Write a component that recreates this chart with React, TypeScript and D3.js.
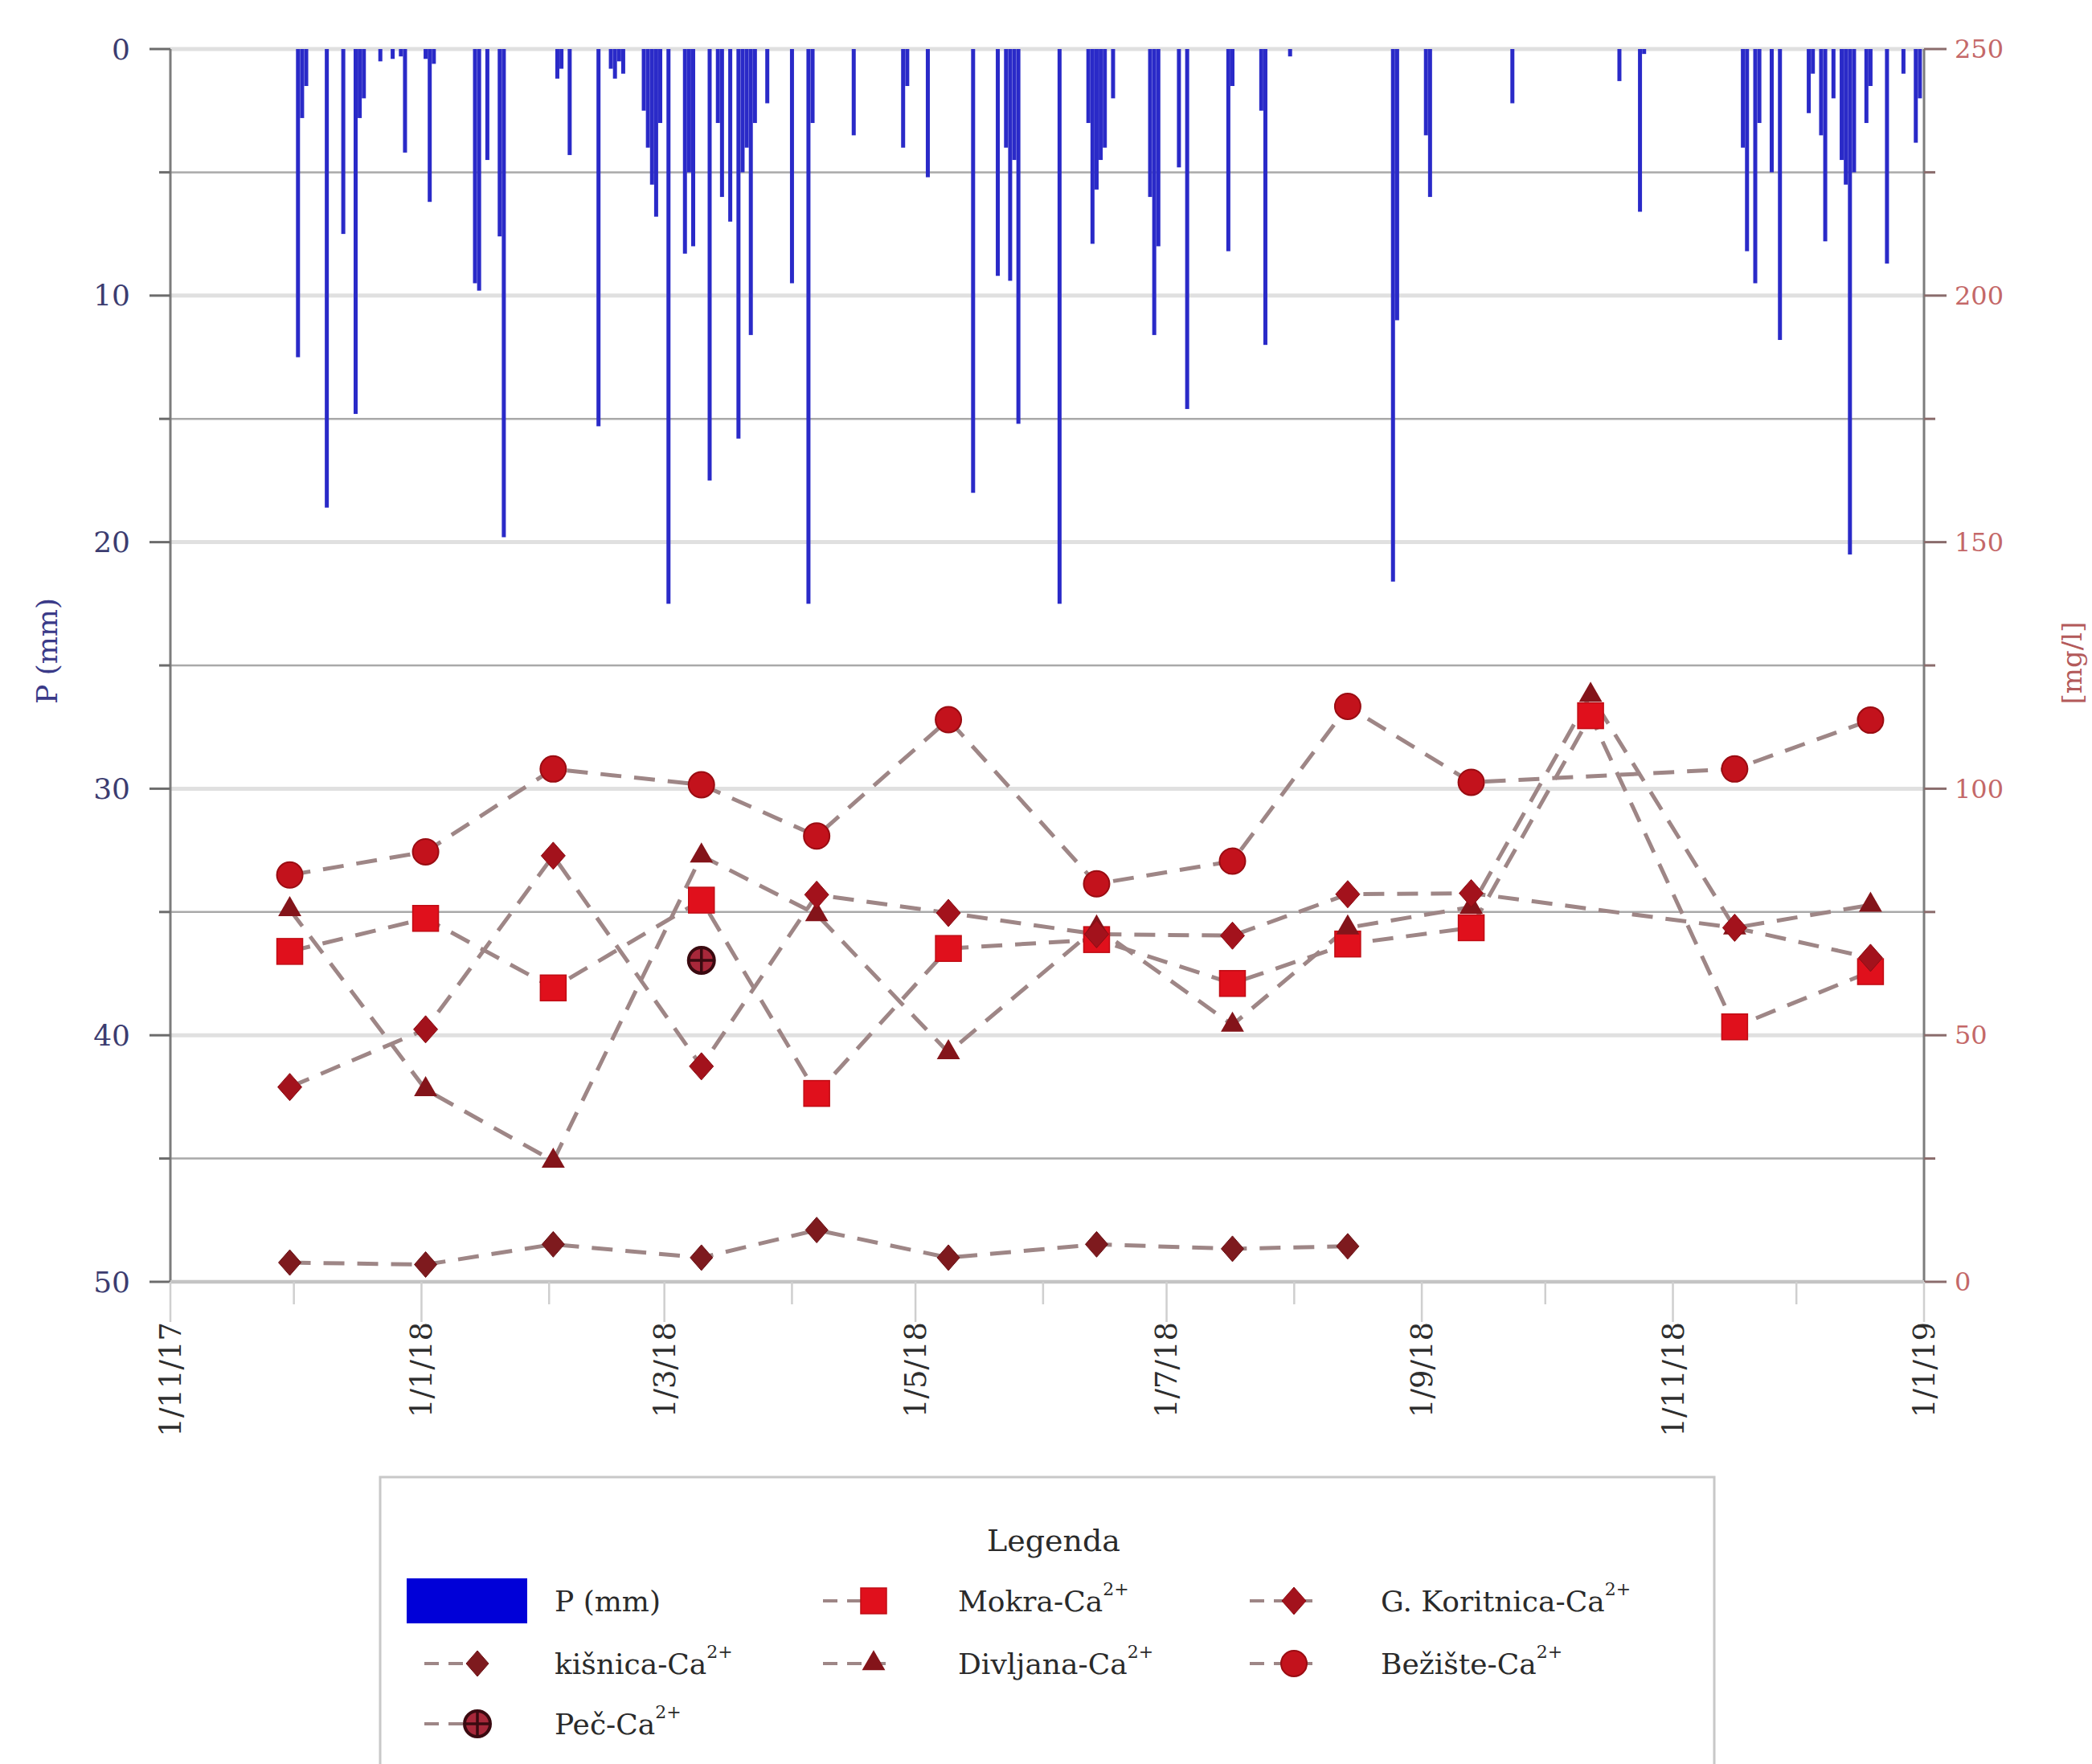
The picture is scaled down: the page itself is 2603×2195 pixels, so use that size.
import React from 'react';
import * as d3 from 'd3';

// ---------- DATA ----------
const precipDates = [
  '2017-12-02','2017-12-03','2017-12-04','2017-12-09','2017-12-13','2017-12-16','2017-12-17','2017-12-18','2017-12-22','2017-12-25','2017-12-27','2017-12-28',
  '2018-01-02','2018-01-03','2018-01-04','2018-01-14','2018-01-15','2018-01-17','2018-01-20','2018-01-21',
  '2018-02-03','2018-02-04','2018-02-06','2018-02-13','2018-02-16','2018-02-17','2018-02-18','2018-02-19','2018-02-24','2018-02-25','2018-02-26','2018-02-27','2018-02-28',
  '2018-03-02','2018-03-06','2018-03-07','2018-03-08','2018-03-12','2018-03-14','2018-03-15','2018-03-17','2018-03-19','2018-03-20','2018-03-21','2018-03-22','2018-03-23','2018-03-26',
  '2018-04-01','2018-04-05','2018-04-06','2018-04-16','2018-04-28','2018-04-29',
  '2018-05-04','2018-05-15','2018-05-21','2018-05-23','2018-05-24','2018-05-25','2018-05-26',
  '2018-06-05','2018-06-12','2018-06-13','2018-06-14','2018-06-15','2018-06-16','2018-06-18','2018-06-27','2018-06-28','2018-06-29',
  '2018-07-04','2018-07-06','2018-07-16','2018-07-17','2018-07-24','2018-07-25','2018-07-31',
  '2018-08-25','2018-08-26','2018-09-02','2018-09-03','2018-09-23',
  '2018-10-19','2018-10-24','2018-10-25',
  '2018-11-18','2018-11-19','2018-11-21','2018-11-22','2018-11-25','2018-11-27',
  '2018-12-04','2018-12-05','2018-12-07','2018-12-08','2018-12-10','2018-12-12','2018-12-13','2018-12-14','2018-12-15','2018-12-18','2018-12-19','2018-12-23','2018-12-27','2018-12-30','2018-12-31',
];
const precipValues = [
  12.5, 2.8, 1.5, 18.6, 7.5, 14.8, 2.8, 2.0, 0.5, 0.4, 0.3, 4.2,
  0.4, 6.2, 0.6, 9.5, 9.8, 4.5, 7.6, 19.8,
  1.2, 0.8, 4.3, 15.3, 0.8, 1.2, 0.5, 1.0, 2.5, 4.0, 5.5, 6.8, 3.0,
  22.5, 8.3, 5.0, 8.0, 17.5, 3.0, 6.0, 7.0, 15.8, 5.0, 4.0, 11.6, 3.0, 2.2,
  9.5, 22.5, 3.0, 3.5, 4.0, 1.5,
  5.2, 18.0, 9.2, 4.0, 9.4, 4.5, 15.2,
  22.5, 3.0, 7.9, 5.7, 4.5, 4.0, 2.0, 6.0, 11.6, 8.0,
  4.8, 14.6, 8.2, 1.5, 2.5, 12.0, 0.3,
  21.6, 11.0, 3.5, 6.0, 2.2,
  1.3, 6.6, 0.2,
  4.0, 8.2, 9.5, 3.0, 5.0, 11.8,
  2.6, 1.0, 3.5, 7.8, 2.0, 4.5, 5.5, 20.5, 5.0, 3.0, 1.5, 8.7, 1.0, 3.8, 2.0,
];

const sampleDates = ['2017-11-30','2018-01-02','2018-02-02','2018-03-10','2018-04-07','2018-05-09','2018-06-14','2018-07-17','2018-08-14','2018-09-13','2018-10-12','2018-11-16','2018-12-19'];
const kisnicaCa = [3.9, 3.5, 7.6, 4.9, 10.5, 4.9, 7.6, 6.7, 7.2, null, null, null, null];
const mokraCa = [67, 73.7, 59.6, 77.4, 38.2, 67.6, 69.4, 60.5, 68.5, 71.8, 114.8, 51.7, 62.9];
const divljanaCa = [75.5, 39, 24.5, 86.4, 74.5, 46.5, 71.8, 52.1, 71.8, 76, 119, 71.8, 76.4];
const koritnicaCa = [39.5, 51.2, 86.4, 43.7, 78.5, 74.8, 70.5, 70.2, 78.6, 78.8, null, 71.8, 65.7];
const bezisteCa = [82.5, 87.2, 104, 100.8, 90.4, 114, 80.7, 85.3, 116.7, 101.3, null, 104, 113.9];
const pecDates = ['2018-03-10'];
const pecCa = [65.2];

const xTickDates = ['2017-11-01','2018-01-01','2018-03-01','2018-05-01','2018-07-01','2018-09-01','2018-11-01','2019-01-01'];
const xTickLabels = ['1/11/17','1/1/18','1/3/18','1/5/18','1/7/18','1/9/18','1/11/18','1/1/19'];
const leftTicks = [0, 10, 20, 30, 40, 50];
const rightTicks = [0, 50, 100, 150, 200, 250];

// ---------- STYLE ----------
const FONT = '"DejaVu Serif", "Liberation Serif", serif';
const LINE_COLOR = '#9e8686';
const DASH = '26 16';

const parse = d3.utcParse('%Y-%m-%d');

function diamondPath(w: number, h: number) {
  return `M0,${-h}L${w},0L0,${h}L${-w},0Z`;
}

type Kind = 'circle' | 'square' | 'triangle' | 'diamond' | 'kdiamond' | 'pec';

function Marker({ kind, cx, cy }: { kind: Kind; cx: number; cy: number }) {
  const t = `translate(${cx},${cy})`;
  if (kind === 'circle')
    return <circle cx={cx} cy={cy} r={16} fill="#c3121c" stroke="#9a0c12" strokeWidth={2} />;
  if (kind === 'square')
    return <rect x={cx - 16} y={cy - 16} width={32} height={32} fill="#e0101c" stroke="#c00c14" strokeWidth={1.5} />;
  if (kind === 'triangle')
    return <path transform={t} d={d3.symbol().type(d3.symbolTriangle).size(360)() as string} fill="#84141a" />;
  if (kind === 'diamond')
    return <path transform={t} d={diamondPath(15, 17)} fill="#a3121c" stroke="#8a0c12" strokeWidth={1} />;
  if (kind === 'kdiamond')
    return <path transform={t} d={diamondPath(14, 16)} fill="#7e1a1e" stroke="#6a1216" strokeWidth={1} />;
  return (
    <g>
      <circle cx={cx} cy={cy} r={16} fill="#a8283a" stroke="#3a0a10" strokeWidth={4} />
      <line x1={cx - 16} x2={cx + 16} y1={cy} y2={cy} stroke="#3a0a10" strokeWidth={3.5} />
      <line x1={cx} x2={cx} y1={cy - 16} y2={cy + 16} stroke="#3a0a10" strokeWidth={3.5} />
    </g>
  );
}

export default function App() {
  const W = 2603, H = 2195;
  const left = 212, right = 2394, top = 61, bottom = 1595;

  const x = d3.scaleUtc().domain([parse('2017-11-01')!, parse('2019-01-01')!]).range([left, right]);
  const yP = d3.scaleLinear().domain([0, 50]).range([top, bottom]);
  const yC = d3.scaleLinear().domain([0, 250]).range([bottom, top]);

  const monthTicks = d3.utcMonth.range(parse('2017-11-01')!, parse('2019-01-02')!);
  const gridVals = d3.range(0, 55, 5);

  const series: { name: string; vals: (number | null)[]; dates: string[]; kind: Kind }[] = [
    { name: 'kisnica', vals: kisnicaCa, dates: sampleDates, kind: 'kdiamond' },
    { name: 'mokra', vals: mokraCa, dates: sampleDates, kind: 'square' },
    { name: 'divljana', vals: divljanaCa, dates: sampleDates, kind: 'triangle' },
    { name: 'koritnica', vals: koritnicaCa, dates: sampleDates, kind: 'diamond' },
    { name: 'beziste', vals: bezisteCa, dates: sampleDates, kind: 'circle' },
    { name: 'pec', vals: pecCa, dates: pecDates, kind: 'pec' },
  ];

  const line = d3
    .line<{ d: Date; v: number }>()
    .x((p) => x(p.d))
    .y((p) => yC(p.v));

  const barW = 5;

  const lgX = 473, lgY = 1838, lgW = 1660;
  const rowY = [1992, 2070, 2145];
  const colSym = [
    { l1: 528, l2: 618, m: 594 },
    { l1: 1024, l2: 1104, m: 1087 },
    { l1: 1555, l2: 1635, m: 1610 },
  ];
  const colText = [690, 1192, 1718];

  const legendItems: { col: number; row: number; label: string; kind: Kind | 'bar' }[] = [
    { col: 0, row: 0, label: 'P (mm)', kind: 'bar' },
    { col: 1, row: 0, label: 'Mokra-Ca', kind: 'square' },
    { col: 2, row: 0, label: 'G. Koritnica-Ca', kind: 'diamond' },
    { col: 0, row: 1, label: 'kišnica-Ca', kind: 'kdiamond' },
    { col: 1, row: 1, label: 'Divljana-Ca', kind: 'triangle' },
    { col: 2, row: 1, label: 'Bežište-Ca', kind: 'circle' },
    { col: 0, row: 2, label: 'Peč-Ca', kind: 'pec' },
  ];

  return (
    <svg
      width={W}
      height={H}
      style={{ position: 'absolute', left: 0, top: 0, background: '#fff' }}
      fontFamily={FONT}
    >
      <rect x={0} y={0} width={W} height={H} fill="#fff" />

      {gridVals.map((v) => {
        const odd = v % 10 !== 0;
        return (
          <line
            key={'g' + v}
            x1={left}
            x2={right}
            y1={yP(v)}
            y2={yP(v)}
            stroke={odd ? '#a9a9a9' : '#e0e0e0'}
            strokeWidth={odd ? 2.5 : 5}
          />
        );
      })}

      {precipDates.map((ds, i) => {
        const cx = x(parse(ds)!);
        return (
          <rect
            key={'b' + i}
            x={cx - barW / 2}
            y={yP(0)}
            width={barW}
            height={yP(precipValues[i]) - yP(0)}
            fill="#2a2ac8"
          />
        );
      })}

      <line x1={left} x2={left} y1={top} y2={bottom} stroke="#7c7c7c" strokeWidth={3} />
      <line x1={right} x2={right} y1={top} y2={bottom} stroke="#7c7c7c" strokeWidth={3} />
      <line x1={left} x2={right} y1={bottom} y2={bottom} stroke="#c4c4c4" strokeWidth={4} />

      {gridVals.map((v) => (
        <line
          key={'lt' + v}
          x1={v % 10 === 0 ? left - 26 : left - 14}
          x2={left}
          y1={yP(v)}
          y2={yP(v)}
          stroke="#6c6c6c"
          strokeWidth={3}
        />
      ))}
      {leftTicks.map((v) => (
        <text key={'ll' + v} x={left - 50} y={yP(v)} dy="0.35em" textAnchor="end" fontSize={36} fill="#3c3c70">
          {v}
        </text>
      ))}

      {d3.range(0, 275, 25).map((v) => (
        <line
          key={'rt' + v}
          x1={right}
          x2={v % 50 === 0 ? right + 28 : right + 14}
          y1={yC(v)}
          y2={yC(v)}
          stroke="#8a6c6c"
          strokeWidth={3}
        />
      ))}
      {rightTicks.map((v) => (
        <text key={'rl' + v} x={right + 38} y={yC(v)} dy="0.35em" textAnchor="start" fontSize={32} fill="#c46868">
          {v}
        </text>
      ))}

      {monthTicks.map((d, i) => {
        const labeled = d.getUTCMonth() % 2 === 0;
        return (
          <line
            key={'bt' + i}
            x1={x(d)}
            x2={x(d)}
            y1={bottom}
            y2={bottom + (labeled ? 50 : 28)}
            stroke="#cfcfcf"
            strokeWidth={2.5}
          />
        );
      })}
      {xTickDates.map((ds, i) => {
        const px = x(parse(ds)!);
        return (
          <text
            key={'xl' + i}
            transform={`translate(${px},${1645}) rotate(-90)`}
            dy="0.35em"
            textAnchor="end"
            fontSize={37}
            fill="#2e2e2e"
          >
            {xTickLabels[i]}
          </text>
        );
      })}

      <text transform={`translate(58,810) rotate(-90)`} dy="0.35em" textAnchor="middle" fontSize={36} fill="#3a3a88">
        P (mm)
      </text>
      <text transform={`translate(2578,825) rotate(-90)`} dy="0.35em" textAnchor="middle" fontSize={34} fill="#b35a5a">
        [mg/l]
      </text>

      {series.map((s) => {
        const pts = s.dates
          .map((ds, i) => ({ d: parse(ds)!, v: s.vals[i] }))
          .filter((p) => p.v != null) as { d: Date; v: number }[];
        return (
          <path
            key={'l' + s.name}
            d={line(pts) || ''}
            fill="none"
            stroke={LINE_COLOR}
            strokeWidth={5}
            strokeDasharray={DASH}
          />
        );
      })}
      {series.map((s) =>
        s.dates.map((ds, i) =>
          s.vals[i] == null ? null : (
            <Marker key={s.name + i} kind={s.kind} cx={x(parse(ds)!)} cy={yC(s.vals[i] as number)} />
          )
        )
      )}

      <rect x={lgX} y={lgY} width={lgW} height={H - lgY + 20} fill="#fff" stroke="#c8c8c8" strokeWidth={3} />
      <text x={1311} y={1917} dy="0.35em" textAnchor="middle" fontSize={38} fill="#2a2a2a">
        Legenda
      </text>
      {legendItems.map((it, k) => {
        const cy = rowY[it.row];
        const c = colSym[it.col];
        return (
          <g key={'lg' + k}>
            {it.kind === 'bar' ? (
              <rect x={506} y={cy - 28} width={150} height={56} fill="#0000d8" />
            ) : (
              <>
                <line x1={c.l1} x2={c.l2} y1={cy} y2={cy} stroke={LINE_COLOR} strokeWidth={4} strokeDasharray="18 12" />
                <Marker kind={it.kind} cx={c.m} cy={cy} />
              </>
            )}
            <text x={colText[it.col]} y={cy} dy="0.35em" fontSize={36} fill="#2a2a2a">
              {it.label}
              {it.kind !== 'bar' && (
                <tspan fontSize={22} dy="-0.9em">
                  2+
                </tspan>
              )}
            </text>
          </g>
        );
      })}
    </svg>
  );
}
